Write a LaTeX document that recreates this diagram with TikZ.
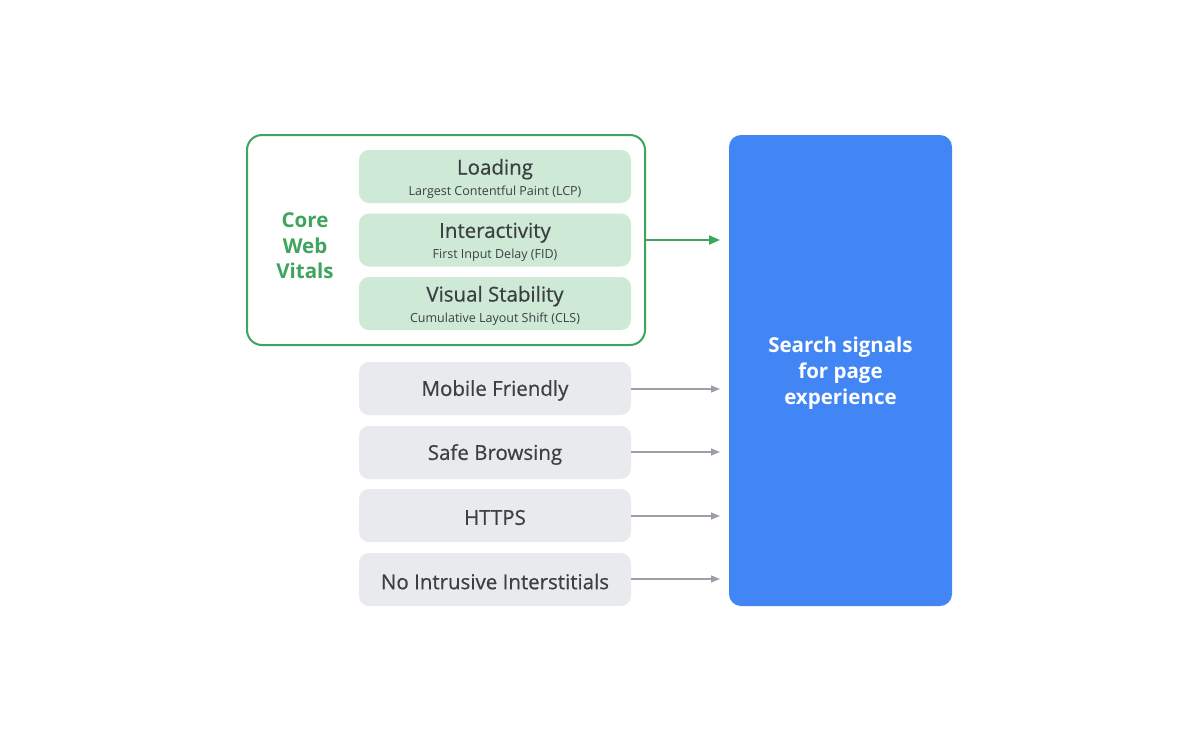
\documentclass[tikz,border=0pt]{standalone}
\usepackage{fontspec}
\setmainfont{Open Sans}
\newfontfamily\medfont[FakeBold=0.6]{Open Sans}
\usetikzlibrary{arrows.meta}
\definecolor{gframe}{HTML}{3FA45E}
\definecolor{gfill}{HTML}{CEEAD6}
\definecolor{grayfill}{HTML}{E8EAED}
\definecolor{graytxt}{HTML}{3C4043}
\definecolor{grayarrow}{HTML}{9AA0A6}
\definecolor{bluefill}{HTML}{4285F4}
\tikzset{
  metric/.style={fill=gfill, rounded corners=10pt, minimum width=272pt, minimum height=53pt, inner sep=0pt},
  metrictext/.style={align=center, text=graytxt, inner sep=0pt},
  signal/.style={fill=grayfill, rounded corners=10pt, minimum width=272pt, minimum height=53pt, inner sep=0pt, align=center, text=graytxt, font=\medfont\fontsize{20.5}{24}\selectfont},
  garrow/.style={draw=grayarrow, line width=1.5pt, -{Triangle[length=9pt,width=7pt]}},
  greenarrow/.style={draw=gframe, line width=1.8pt, -{Triangle[length=11pt,width=9pt]}},
}
\newcommand{\mtitle}[1]{{\medfont\fontsize{20.5}{22}\selectfont #1}}
\newcommand{\msub}[1]{{\fontsize{12.5}{15}\selectfont #1}}
\begin{document}
\begin{tikzpicture}[x=1pt,y=-1pt]
\useasboundingbox[fill=white] (0,0) rectangle (1200,742);
% green frame
\node[draw=gframe, line width=2pt, rounded corners=15pt, minimum width=398pt, minimum height=210pt, inner sep=0pt] (cwv) at (446,240) {};
\node[text=gframe, font=\bfseries\fontsize{20.5}{25.5}\selectfont, align=center] (cwvlabel) at (305,246) {Core\\Web\\Vitals};
\node[metric] (lcp) at (495,176.5) {};
\node[metric] (fid) at (495,240) {};
\node[metric] (cls) at (495,303.5) {};
\node[metrictext] (lcpt) at ([yshift=-2pt]lcp.center) {\mtitle{Loading}\\[5pt]\msub{Largest Contentful Paint (LCP)}};
\node[metrictext] (fidt) at ([yshift=-2pt]fid.center) {\mtitle{Interactivity}\\[5pt]\msub{First Input Delay (FID)}};
\node[metrictext] (clst) at ([yshift=-2pt]cls.center) {\mtitle{Visual Stability}\\[5pt]\msub{Cumulative Layout Shift (CLS)}};
% gray signals
\node[signal] (mob) at (495,388.5) {};
\node[signal] (safe) at (495,452.5) {};
\node[signal] (https) at (495,515.5) {};
\node[signal] (nii) at (495,579.5) {};
\node[signal, fill=none] (mobt) at ([yshift=-2pt]mob.center) {Mobile Friendly};
\node[signal, fill=none] (safet) at ([yshift=-2pt]safe.center) {Safe Browsing};
\node[signal, fill=none] (httpst) at ([yshift=-2pt]https.center) {HTTPS};
\node[signal, fill=none] (niit) at ([yshift=-2pt]nii.center) {No Intrusive Interstitials};
% blue box
\node[fill=bluefill, rounded corners=12pt, minimum width=223pt, minimum height=471pt, inner sep=0pt] (search) at (840.5,370.5) {};
\node[text=white, font=\bfseries\fontsize{20.5}{26}\selectfont, align=center] (searchlabel) at (840.5,373) {Search signals\\for page\\experience};
% arrows
\coordinate (t0) at (720,240);
\coordinate (t1) at (720,389);
\coordinate (t2) at (720,452);
\coordinate (t3) at (720,516);
\coordinate (t4) at (720,579);
\draw[greenarrow] (cwv.east |- t0) -- (t0);
\draw[garrow] (mob.east |- t1) -- (t1);
\draw[garrow] (safe.east |- t2) -- (t2);
\draw[garrow] (https.east |- t3) -- (t3);
\draw[garrow] (nii.east |- t4) -- (t4);
\end{tikzpicture}
\end{document}
